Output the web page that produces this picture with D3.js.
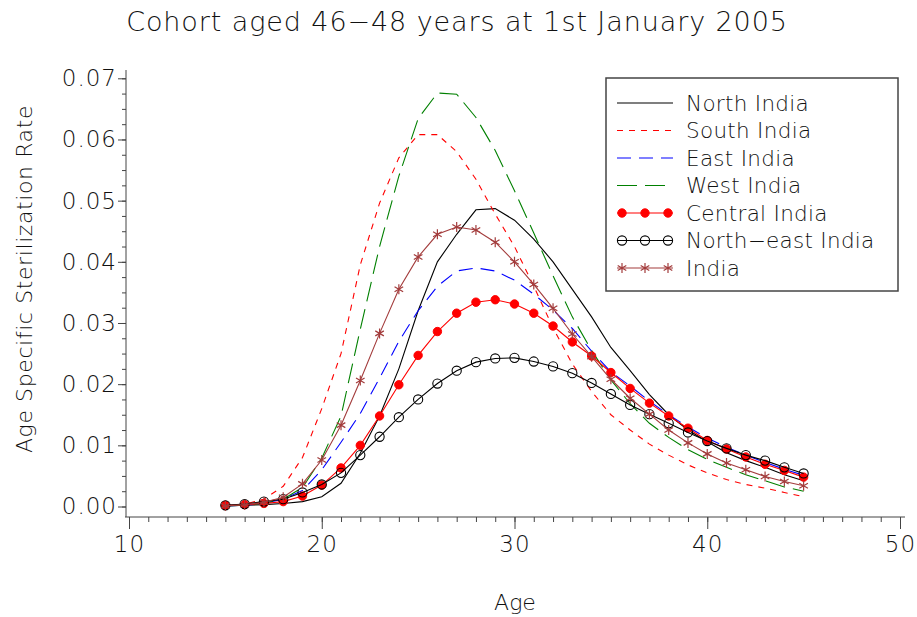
<html>
<head>
<style>
  body { margin: 0; background: #fff; }
  text { font-family: "DejaVu Sans", sans-serif; font-weight: 200; fill: #111; }
  .axis path, .axis line { stroke: #444; }
  .series { fill: none; stroke-width: 1.1px; }
</style>
</head>
<body>
<svg width="917" height="617"></svg>
<script src="https://cdn.jsdelivr.net/npm/d3@7"></script>
<script>

var ages = [15,16,17,18,19,20,21,22,23,24,25,26,27,28,29,30,31,32,33,34,35,36,37,38,39,40,41,42,43,44,45];

var north = [0.0001,0.0002,0.0003,0.0005,0.0008,0.0016,0.0038,0.0087,0.0148,0.0225,0.032,0.040,0.0445,0.0485,0.0487,0.0468,
             0.0437,0.0400,0.0355,0.0310,0.0260,0.0222,0.0183,0.0150,0.0125,0.0106,0.0088,0.0075,0.0064,0.0052,0.0042];
var south = [0.0001,0.0004,0.0012,0.0033,0.0080,0.0160,0.0250,0.0395,0.0496,0.0570,0.0608,0.0608,0.0580,0.0535,0.0478,0.0425,
             0.0360,0.0292,0.0233,0.0188,0.0150,0.0125,0.0102,0.0084,0.0068,0.0055,0.0044,0.0036,0.0030,0.0023,0.0016];
var east = [0.0001,0.0002,0.0005,0.0012,0.0026,0.0060,0.0105,0.0152,0.0210,0.0270,0.0320,0.0360,0.0385,0.0390,0.0385,0.0370,
            0.0347,0.0321,0.0291,0.0254,0.0220,0.0197,0.0172,0.0150,0.0130,0.0112,0.0097,0.0084,0.0072,0.0061,0.0051];
var west = [0.0001,0.0002,0.0005,0.0012,0.0031,0.0079,0.0148,0.0290,0.0425,0.0540,0.0634,0.0676,0.0674,0.0636,0.0582,0.0516,
            0.0447,0.0377,0.0310,0.0255,0.0207,0.0168,0.0136,0.0113,0.0093,0.0077,0.0064,0.0052,0.0042,0.0032,0.0025];
var central = [0.0002,0.0003,0.0005,0.0008,0.0017,0.0035,0.0063,0.0100,0.0148,0.0199,0.0247,0.0286,0.0316,0.0334,0.0338,0.0331,
               0.0316,0.0295,0.0269,0.0246,0.0219,0.0193,0.0169,0.0148,0.0128,0.0108,0.0094,0.0081,0.0069,0.0059,0.0048];
var northeast = [0.0002,0.0004,0.0008,0.0012,0.0023,0.0036,0.0055,0.0084,0.0114,0.0146,0.0175,0.0201,0.0222,0.0236,0.0242,0.0243,
                 0.0237,0.0229,0.0218,0.0202,0.0184,0.0166,0.0151,0.0136,0.0121,0.0107,0.0095,0.0084,0.0075,0.0064,0.0054];
var india = [0.0001,0.0003,0.0007,0.0015,0.0037,0.0076,0.0133,0.0206,0.0283,0.0355,0.0408,0.0445,0.0457,0.0452,0.0432,0.0400,
             0.0363,0.0324,0.0282,0.0245,0.0208,0.0177,0.0151,0.0125,0.0104,0.0086,0.0071,0.0060,0.0049,0.0041,0.0034];

var xTicks = [10,20,30,40,50];
var yTicks = [0,0.01,0.02,0.03,0.04,0.05,0.06,0.07];

var series = [
  {name: "North India",      values: north,     color: "#000",    dash: null,   marker: null},
  {name: "South India",      values: south,     color: "#ff0000", dash: "6,6",  marker: null},
  {name: "East India",       values: east,      color: "#0000ff", dash: "14,8", marker: null},
  {name: "West India",       values: west,      color: "#008000", dash: "20,8", marker: null},
  {name: "Central India",    values: central,   color: "#ff0000", dash: null,   marker: "dot"},
  {name: "North\u2212east India", values: northeast, color: "#000", dash: null, marker: "circle"},
  {name: "India",            values: india,     color: "#a33c3c", dash: null,   marker: "star"}
];

var svg = d3.select("svg");

var x = d3.scaleLinear().domain([10, 50]).range([129, 900]);
var y = d3.scaleLinear().domain([0, 0.07]).range([506.5, 78.3]);
var axisY = 517;

// title and axis titles
svg.append("text").attr("x", 457).attr("y", 31).attr("text-anchor", "middle")
    .style("font-size", "27px").style("letter-spacing", "0.9px")
    .text("Cohort aged 46\u221248 years at 1st January 2005");
svg.append("text").attr("transform", "translate(32,279) rotate(-90)").attr("text-anchor", "middle")
    .style("font-size", "22px").style("letter-spacing", "0.6px").text("Age Specific Sterilization Rate");
svg.append("text").attr("x", 515).attr("y", 610).attr("text-anchor", "middle")
    .style("font-size", "22px").text("Age");

// x axis (minor ticks every year, major every 10)
var gx = svg.append("g").attr("class", "axis").attr("transform", "translate(0," + axisY + ")");
gx.call(d3.axisBottom(x).tickValues(d3.range(10, 51, 1)).tickSize(5).tickFormat(""));
gx.select(".domain").remove();
var gx2 = svg.append("g").attr("class", "axis").attr("transform", "translate(0," + axisY + ")");
gx2.call(d3.axisBottom(x).tickValues(xTicks).tickSize(12).tickPadding(7).tickFormat(d3.format("d")));
gx2.select(".domain").remove();
gx2.selectAll("text").style("font-size", "23px").style("letter-spacing", "1px")
    .style("font-family", "DejaVu Sans").style("font-weight", 200).attr("fill", "#111");
svg.append("line").attr("x1", 125).attr("x2", 905).attr("y1", axisY).attr("y2", axisY)
    .attr("stroke", "#444");

// y axis
var gy = svg.append("g").attr("class", "axis").attr("transform", "translate(126,0)");
gy.call(d3.axisLeft(y).tickValues(d3.range(0, 0.0701, 0.0025)).tickSize(4).tickFormat(""));
gy.select(".domain").remove();
var gy2 = svg.append("g").attr("class", "axis").attr("transform", "translate(126,0)");
gy2.call(d3.axisLeft(y).tickValues(yTicks).tickSize(8).tickPadding(1).tickFormat(d3.format(".2f")));
gy2.select(".domain").remove();
gy2.selectAll("text").style("font-size", "23px").style("letter-spacing", "1px")
    .style("font-family", "DejaVu Sans").style("font-weight", 200).attr("fill", "#111");
svg.append("line").attr("x1", 126).attr("x2", 126).attr("y1", 70).attr("y2", axisY)
    .attr("stroke", "#444");

// lines
var line = d3.line().x((d, i) => x(ages[i])).y(d => y(d));

var starPath = "M0,-5L0,5M-4.3,-2.5L4.3,2.5M-4.3,2.5L4.3,-2.5";

function drawMarkers(g, s, pts) {
  if (s.marker === "dot") {
    g.selectAll("circle").data(pts).enter().append("circle")
      .attr("cx", d => d[0]).attr("cy", d => d[1]).attr("r", 4.2)
      .attr("fill", s.color).attr("stroke", s.color);
  } else if (s.marker === "circle") {
    g.selectAll("circle").data(pts).enter().append("circle")
      .attr("cx", d => d[0]).attr("cy", d => d[1]).attr("r", 4.6)
      .attr("fill", "none").attr("stroke", s.color).attr("stroke-width", 1.1);
  } else if (s.marker === "star") {
    g.selectAll("path.star").data(pts).enter().append("path").attr("class", "star")
      .attr("transform", d => "translate(" + d[0] + "," + d[1] + ")")
      .attr("d", starPath).attr("fill", "none").attr("stroke", s.color).attr("stroke-width", 1.2);
  }
}

series.forEach(function(s) {
  var g = svg.append("g");
  g.append("path").datum(s.values).attr("class", "series")
    .attr("d", line).attr("stroke", s.color)
    .attr("stroke-dasharray", s.dash);
  drawMarkers(g, s, s.values.map((v, i) => [x(ages[i]), y(v)]));
});

// legend
var legend = svg.append("g");
legend.append("rect").attr("x", 606).attr("y", 78).attr("width", 292).attr("height", 213)
  .attr("fill", "#fff").attr("stroke", "#444").attr("stroke-width", 1.5);

series.forEach(function(s, i) {
  var cy = 103 + i * 27.5;
  var g = legend.append("g");
  g.append("line").attr("x1", 617).attr("x2", 673).attr("y1", cy).attr("y2", cy)
    .attr("stroke", s.color).attr("stroke-width", 1.1).attr("stroke-dasharray", s.dash);
  drawMarkers(g, s, [[622, cy], [645, cy], [668, cy]]);
  g.append("text").attr("x", 686).attr("y", cy).attr("dy", "0.36em")
    .style("font-size", "21.5px").style("letter-spacing", "0.3px").text(s.name);
});

</script>
</body>
</html>
